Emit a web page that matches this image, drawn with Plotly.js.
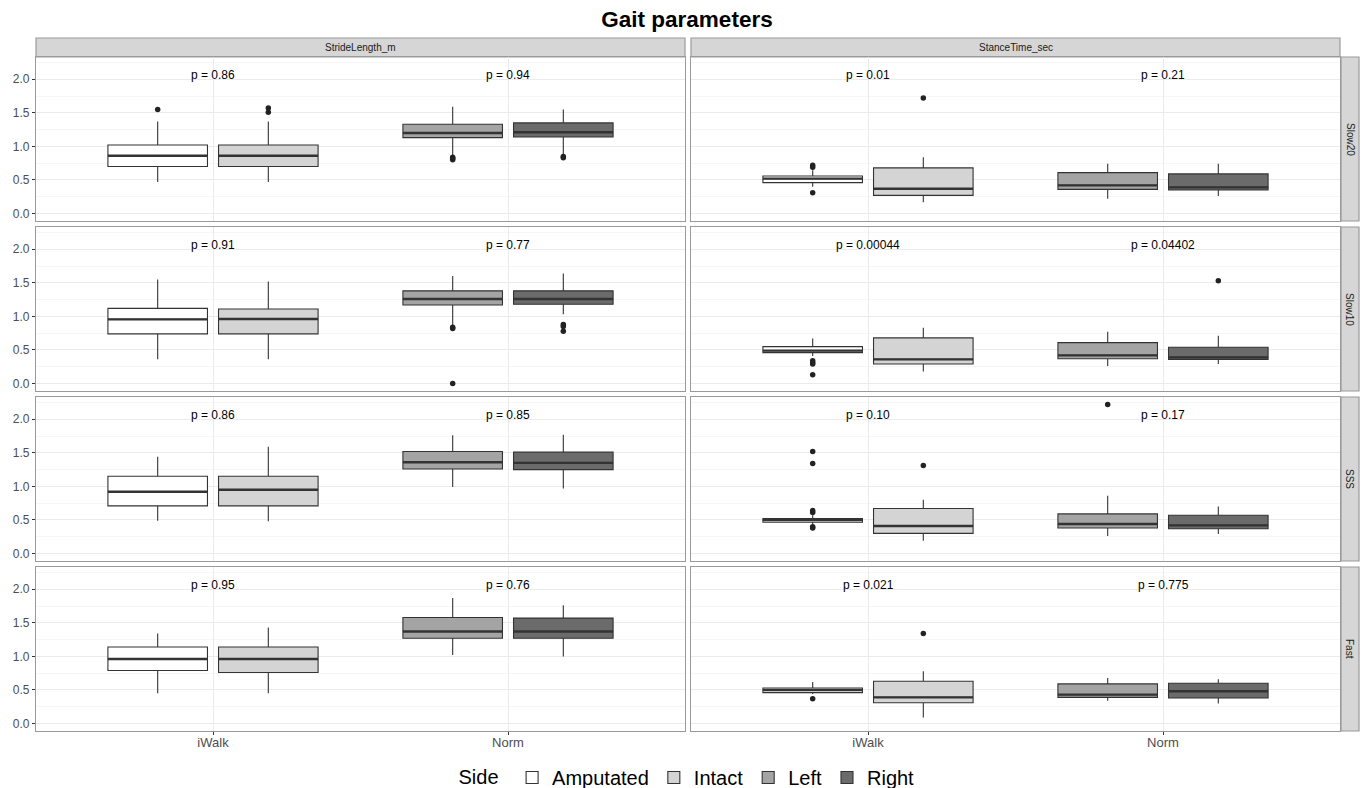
<!DOCTYPE html>
<html>
<head>
<meta charset="utf-8">
<script src="https://cdn.plot.ly/plotly-3.0.1.min.js"></script>
<style>html,body{margin:0;padding:0;background:#fff;}#chart{width:1366px;height:788px;}</style>
</head>
<body>
<div id="chart"></div>
<script>
// ---------- DATA ----------
const speeds = ['Slow20', 'Slow10', 'SSS', 'Fast'];
const metrics = ['StrideLength_m', 'StanceTime_sec'];
const groups = ['iWalk', 'Norm'];
const sides = ['Amputated', 'Intact', 'Left', 'Right'];
const sideGroup = [0, 0, 1, 1]; // index into groups

// Stride length, [speed][side]
const strideLower  = [[0.47,0.47,0.86,0.88],[0.36,0.36,0.87,1.03],[0.49,0.48,0.99,0.97],[0.45,0.45,1.02,1.00]];
const strideQ1     = [[0.70,0.70,1.13,1.14],[0.74,0.74,1.17,1.18],[0.71,0.71,1.26,1.25],[0.79,0.76,1.27,1.27]];
const strideMedian = [[0.86,0.86,1.20,1.21],[0.955,0.96,1.26,1.26],[0.92,0.95,1.36,1.35],[0.96,0.96,1.37,1.37]];
const strideQ3     = [[1.02,1.02,1.33,1.35],[1.12,1.11,1.38,1.38],[1.15,1.15,1.52,1.51],[1.14,1.14,1.58,1.57]];
const strideUpper  = [[1.37,1.37,1.59,1.55],[1.55,1.52,1.60,1.64],[1.44,1.59,1.76,1.77],[1.34,1.43,1.87,1.76]];
const strideOutliers = [
  [[1.55],[1.57,1.51],[0.84,0.82,0.80],[0.85,0.83]],
  [[],[],[0.84,0.82,0.0],[0.88,0.85,0.78]],
  [[],[],[],[]],
  [[],[],[],[]]
];

// Stance time, [speed][side]
const stanceLower  = [[0.40,0.17,0.22,0.26],[0.41,0.18,0.26,0.29],[0.44,0.19,0.26,0.29],[0.44,0.09,0.34,0.30]];
const stanceQ1     = [[0.46,0.27,0.36,0.35],[0.46,0.29,0.37,0.36],[0.465,0.30,0.38,0.37],[0.46,0.31,0.39,0.38]];
const stanceMedian = [[0.52,0.37,0.42,0.39],[0.49,0.36,0.42,0.39],[0.50,0.41,0.44,0.42],[0.50,0.39,0.43,0.48]];
const stanceQ3     = [[0.56,0.68,0.61,0.59],[0.55,0.68,0.61,0.54],[0.52,0.67,0.59,0.57],[0.53,0.63,0.59,0.60]];
const stanceUpper  = [[0.645,0.84,0.74,0.74],[0.67,0.83,0.77,0.71],[0.57,0.80,0.86,0.70],[0.62,0.78,0.68,0.66]];
const stanceOutliers = [
  [[0.72,0.69,0.31],[1.72],[],[]],
  [[0.34,0.31,0.29,0.13],[],[],[1.53]],
  [[1.52,1.34,0.64,0.61,0.40,0.38],[1.31],[2.22],[]],
  [[0.37],[1.34],[],[]]
];

// p-values [speed][group]
const pStride = [['0.86','0.94'],['0.91','0.77'],['0.86','0.85'],['0.95','0.76']];
const pStance = [['0.01','0.21'],['0.00044','0.04402'],['0.10','0.17'],['0.021','0.775']];
const pLabelY = 2.06;

// ---------- STYLE / LAYOUT ----------
const W = 1366, H = 788;
const fills = ['#ffffff', '#d4d4d4', '#a4a4a4', '#6b6b6b'];
const boxLine = '#333333';
const dodge = 0.375, boxW = 0.3375;
const colX = [[36, 685], [691, 1340]];
const rowTop = [57, 227, 397, 567], rowH = 164;
const yRange = [-0.111, 2.331];
const FONT = 'Liberation Sans, Arial, Helvetica, sans-serif';
const px = v => v / W, py = v => 1 - v / H;

const stats = [
  {lower: strideLower, q1: strideQ1, med: strideMedian, q3: strideQ3, upper: strideUpper, out: strideOutliers, p: pStride},
  {lower: stanceLower, q1: stanceQ1, med: stanceMedian, q3: stanceQ3, upper: stanceUpper, out: stanceOutliers, p: pStance}
];

const boxTraces = [], medTraces = [], outTraces = [];
const annotations = [], shapes = [];
const layout = {
  width: W, height: H,
  margin: {l: 0, r: 0, t: 0, b: 0, autoexpand: false},
  paper_bgcolor: '#fff', plot_bgcolor: '#fff',
  boxmode: 'overlay',
  showlegend: true,
  font: {family: FONT, color: '#000'},
  title: {text: '<b>Gait parameters</b>', x: px(687), xanchor: 'center', y: py(19), yanchor: 'middle',
          font: {family: FONT, size: 22.5, color: '#000'}},
  legend: {orientation: 'h', x: px(688), xanchor: 'center', y: py(758), yanchor: 'top',
           font: {family: FONT, size: 20, color: '#000'}, title: {text: 'Side ', side: 'left', font: {family: FONT, size: 20}},
           itemwidth: 30, tracegroupgap: 0, bgcolor: 'rgba(0,0,0,0)', valign: 'middle'}
};

for (let r = 0; r < 4; r++) {
  for (let c = 0; c < 2; c++) {
    const k = r * 2 + c + 1;
    const xa = 'x' + (k === 1 ? '' : k), ya = 'y' + (k === 1 ? '' : k);
    const xKey = 'xaxis' + (k === 1 ? '' : k), yKey = 'yaxis' + (k === 1 ? '' : k);
    const bottom = r === 3, left = c === 0;
    layout[xKey] = {
      domain: [px(colX[c][0]), px(colX[c][1])], anchor: ya,
      range: [0.4, 2.6], tickvals: [1, 2], ticktext: groups,
      showticklabels: bottom, ticks: bottom ? 'outside' : '', ticklen: 3, tickcolor: '#333',
      ticklabelstandoff: -4,
      tickfont: {family: FONT, size: 13, color: '#4d4d4d'},
      showgrid: true, gridcolor: '#ebebeb', gridwidth: 1, zeroline: false,
      showline: true, mirror: true, linecolor: '#9a9a9a', linewidth: 1.2, fixedrange: true
    };
    layout[yKey] = {
      domain: [py(rowTop[r] + rowH), py(rowTop[r])], anchor: xa,
      range: yRange, tick0: 0, dtick: 0.5, tickformat: '.1f',
      showticklabels: left, ticks: left ? 'outside' : '', ticklen: 3, tickcolor: '#333',
      tickfont: {family: FONT, size: 12, color: '#4d4d4d'},
      showgrid: true, gridcolor: '#ebebeb', gridwidth: 1, zeroline: false,
      minor: {dtick: 0.25, tick0: 0, showgrid: true, gridcolor: '#f6f6f6', gridwidth: 1, ticks: ''},
      showline: true, mirror: true, linecolor: '#9a9a9a', linewidth: 1.2, fixedrange: true
    };
    const S = stats[c];
    for (let s = 0; s < 4; s++) {
      const pos = (sideGroup[s] + 1) + (s % 2 === 0 ? -1 : 1) * dodge / 2;
      boxTraces.push({
        type: 'box', x: [pos], q1: [S.q1[r][s]], median: [S.med[r][s]], q3: [S.q3[r][s]],
        lowerfence: [S.lower[r][s]], upperfence: [S.upper[r][s]],
        width: boxW, boxpoints: false, whiskerwidth: 0,
        fillcolor: fills[s], line: {color: boxLine, width: 1.1},
        name: sides[s], legendgroup: sides[s], showlegend: k === 1,
        xaxis: xa, yaxis: ya, hoverinfo: 'skip'
      });
      medTraces.push({
        type: 'scatter', mode: 'lines', x: [pos - boxW / 2, pos + boxW / 2], y: [S.med[r][s], S.med[r][s]],
        line: {color: boxLine, width: 2.4}, showlegend: false, hoverinfo: 'skip', xaxis: xa, yaxis: ya
      });
      const o = S.out[r][s];
      if (o.length) {
        outTraces.push({
          type: 'scatter', mode: 'markers', x: o.map(() => pos), y: o,
          marker: {color: '#222', size: 5.5}, showlegend: false, hoverinfo: 'skip', xaxis: xa, yaxis: ya
        });
      }
    }
    for (let g = 0; g < 2; g++) {
      annotations.push({
        xref: xa, yref: ya, x: g + 1, y: pLabelY, text: 'p = ' + S.p[r][g], showarrow: false,
        font: {family: FONT, size: 12, color: '#000'}, xanchor: 'center', yanchor: 'middle'
      });
    }
  }
  // right strip
  shapes.push({type: 'rect', xref: 'paper', yref: 'paper', x0: px(1341), x1: px(1359),
    y0: py(rowTop[r] + rowH), y1: py(rowTop[r]), fillcolor: '#d6d6d6', line: {color: '#9a9a9a', width: 1.2}, layer: 'below'});
  annotations.push({xref: 'paper', yref: 'paper', x: px(1350), y: py(rowTop[r] + rowH / 2), text: speeds[r],
    textangle: 90, showarrow: false, font: {family: FONT, size: 10, color: '#1a1a1a'}, xanchor: 'center', yanchor: 'middle'});
}
// top strips
for (let c = 0; c < 2; c++) {
  shapes.push({type: 'rect', xref: 'paper', yref: 'paper', x0: px(colX[c][0]), x1: px(colX[c][1]),
    y0: py(57), y1: py(38), fillcolor: '#d6d6d6', line: {color: '#9a9a9a', width: 1.2}, layer: 'below'});
  annotations.push({xref: 'paper', yref: 'paper', x: px((colX[c][0] + colX[c][1]) / 2), y: py(47.5), text: metrics[c],
    showarrow: false, font: {family: FONT, size: 10, color: '#1a1a1a'}, xanchor: 'center', yanchor: 'middle'});
}
layout.annotations = annotations;
layout.shapes = shapes;

Plotly.newPlot('chart', boxTraces.concat(medTraces, outTraces), layout, {displayModeBar: false, staticPlot: true});
</script>
</body>
</html>
